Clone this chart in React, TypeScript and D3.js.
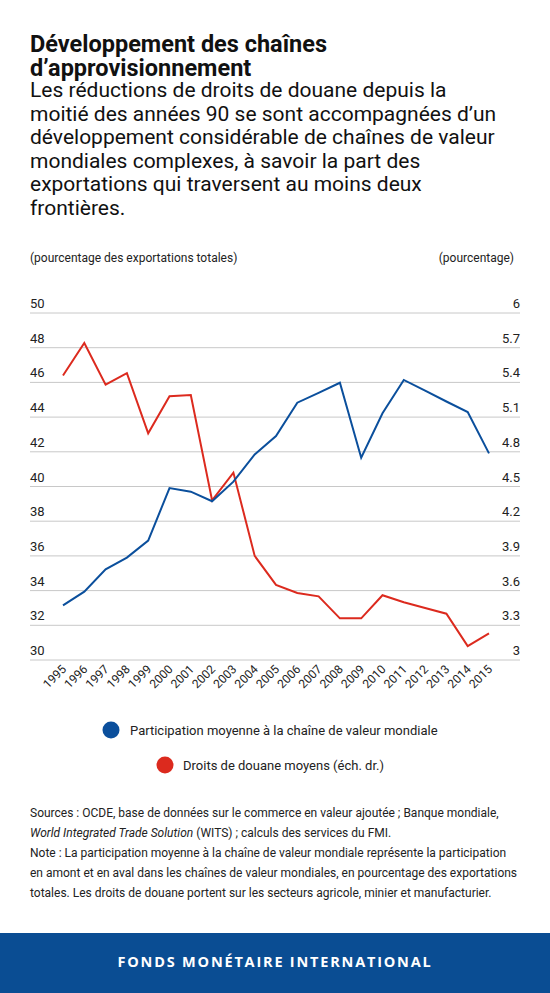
import React from "react";
import * as d3 from "d3";

// data
const years = [
  "1995", "1996", "1997", "1998", "1999", "2000", "2001", "2002", "2003", "2004", "2005",
  "2006", "2007", "2008", "2009", "2010", "2011", "2012", "2013", "2014", "2015",
];
const participation = [
  33.15, 33.94, 35.23, 35.9, 36.88, 39.91, 39.7, 39.15, 40.28, 41.85, 42.91,
  44.83, 45.4, 45.98, 41.66, 44.22, 46.14, 45.52, 44.9, 44.29, 41.91,
];
const tariffs = [
  5.46, 5.74, 5.38, 5.48, 4.96, 5.28, 5.29, 4.38, 4.62, 3.9, 3.65,
  3.58, 3.55, 3.36, 3.36, 3.56, 3.5, 3.45, 3.4, 3.12, 3.23,
];
const leftTicks = [30, 32, 34, 36, 38, 40, 42, 44, 46, 48, 50];
const rightTicks = ["3", "3.3", "3.6", "3.9", "4.2", "4.5", "4.8", "5.1", "5.4", "5.7", "6"];

const subtitleLines = [
  "Les réductions de droits de douane depuis la",
  "moitié des années 90 se sont accompagnées d\u2019un",
  "développement considérable de chaînes de valeur",
  "mondiales complexes, à savoir la part des",
  "exportations qui traversent au moins deux",
  "frontières.",
];

const BLUE = "#0b4f9c";
const RED = "#dc2a1e";
const FONT = "Roboto, sans-serif";

export default function App() {
  const W = 550;
  const H = 993;
  const gridLeft = 30;
  const gridRight = 520;
  const top = 313;
  const bottom = 660;

  const x = d3.scalePoint<string>().domain(years).range([63, 489]);
  const yL = d3.scaleLinear().domain([30, 50]).range([bottom, top]);
  const yR = d3.scaleLinear().domain([3, 6]).range([bottom, top]);

  const lineL = d3
    .line<number>()
    .x((_, i) => x(years[i]) as number)
    .y((d) => yL(d));
  const lineR = d3
    .line<number>()
    .x((_, i) => x(years[i]) as number)
    .y((d) => yR(d));

  return (
    <div style={{ position: "absolute", left: 0, top: 0 }}>
      <svg width={W} height={H} style={{ display: "block", fontFamily: FONT }}>
        <rect width={W} height={H} fill="#fff" />
        <text x={30} y={52} fontSize={23.5} fontWeight={700} fill="#111">
          Développement des chaînes
        </text>
        <text x={30} y={76} fontSize={23.5} fontWeight={700} fill="#111">
          d’approvisionnement
        </text>
        {subtitleLines.map((t, i) => (
          <text key={i} x={30} y={97 + i * 23.6} fontSize={21} fill="#111">
            {t}
          </text>
        ))}

        <text x={30} y={262} fontSize={12} fill="#222">
          (pourcentage des exportations totales)
        </text>
        <text x={514} y={262} fontSize={12} fill="#222" textAnchor="end">
          (pourcentage)
        </text>

        {leftTicks.map((t, i) => (
          <g key={t}>
            <line x1={gridLeft} x2={gridRight} y1={yL(t)} y2={yL(t)} stroke="#c8c8c8" strokeWidth={1} />
            <text x={gridLeft} y={yL(t) - 5} fontSize={13} fill="#222">
              {t}
            </text>
            <text x={gridRight} y={yL(t) - 5} fontSize={13} fill="#222" textAnchor="end">
              {rightTicks[i]}
            </text>
          </g>
        ))}

        {years.map((yr) => {
          const px = (x(yr) as number) + 4;
          const py = 670;
          return (
            <text
              key={yr}
              x={px}
              y={py}
              fontSize={12}
              fill="#222"
              textAnchor="end"
              transform={`rotate(-45 ${px} ${py})`}
            >
              {yr}
            </text>
          );
        })}

        <path d={lineR(tariffs) || ""} fill="none" stroke={RED} strokeWidth={2} strokeLinejoin="miter" />
        <path d={lineL(participation) || ""} fill="none" stroke={BLUE} strokeWidth={2} strokeLinejoin="miter" />

        <circle cx={111} cy={730} r={8.5} fill={BLUE} />
        <text x={130} y={735} fontSize={13} fill="#222">
          Participation moyenne à la chaîne de valeur mondiale
        </text>
        <circle cx={165} cy={765} r={8.5} fill={RED} />
        <text x={183} y={770} fontSize={13} fill="#222">
          Droits de douane moyens (éch. dr.)
        </text>

        <g fontSize={12} fill="#222">
          <text x={30} y={817}>
            Sources : OCDE, base de données sur le commerce en valeur ajoutée ; Banque mondiale,
          </text>
          <text x={30} y={837}>
            <tspan fontStyle="italic">World Integrated Trade Solution</tspan> (WITS) ; calculs des services du FMI.
          </text>
          <text x={30} y={857}>
            Note : La participation moyenne à la chaîne de valeur mondiale représente la participation
          </text>
          <text x={30} y={877}>
            en amont et en aval dans les chaînes de valeur mondiales, en pourcentage des exportations
          </text>
          <text x={30} y={897}>
            totales. Les droits de douane portent sur les secteurs agricole, minier et manufacturier.
          </text>
        </g>

        <rect x={0} y={933} width={W} height={H - 933} fill="#0a4d93" />
        <text
          x={W / 2}
          y={967}
          fontSize={14.5}
          fontWeight={700}
          fill="#fff"
          textAnchor="middle"
          letterSpacing={1.8}
          fontFamily="'Open Sans', sans-serif"
        >
          FONDS MONÉTAIRE INTERNATIONAL
        </text>
      </svg>
    </div>
  );
}
